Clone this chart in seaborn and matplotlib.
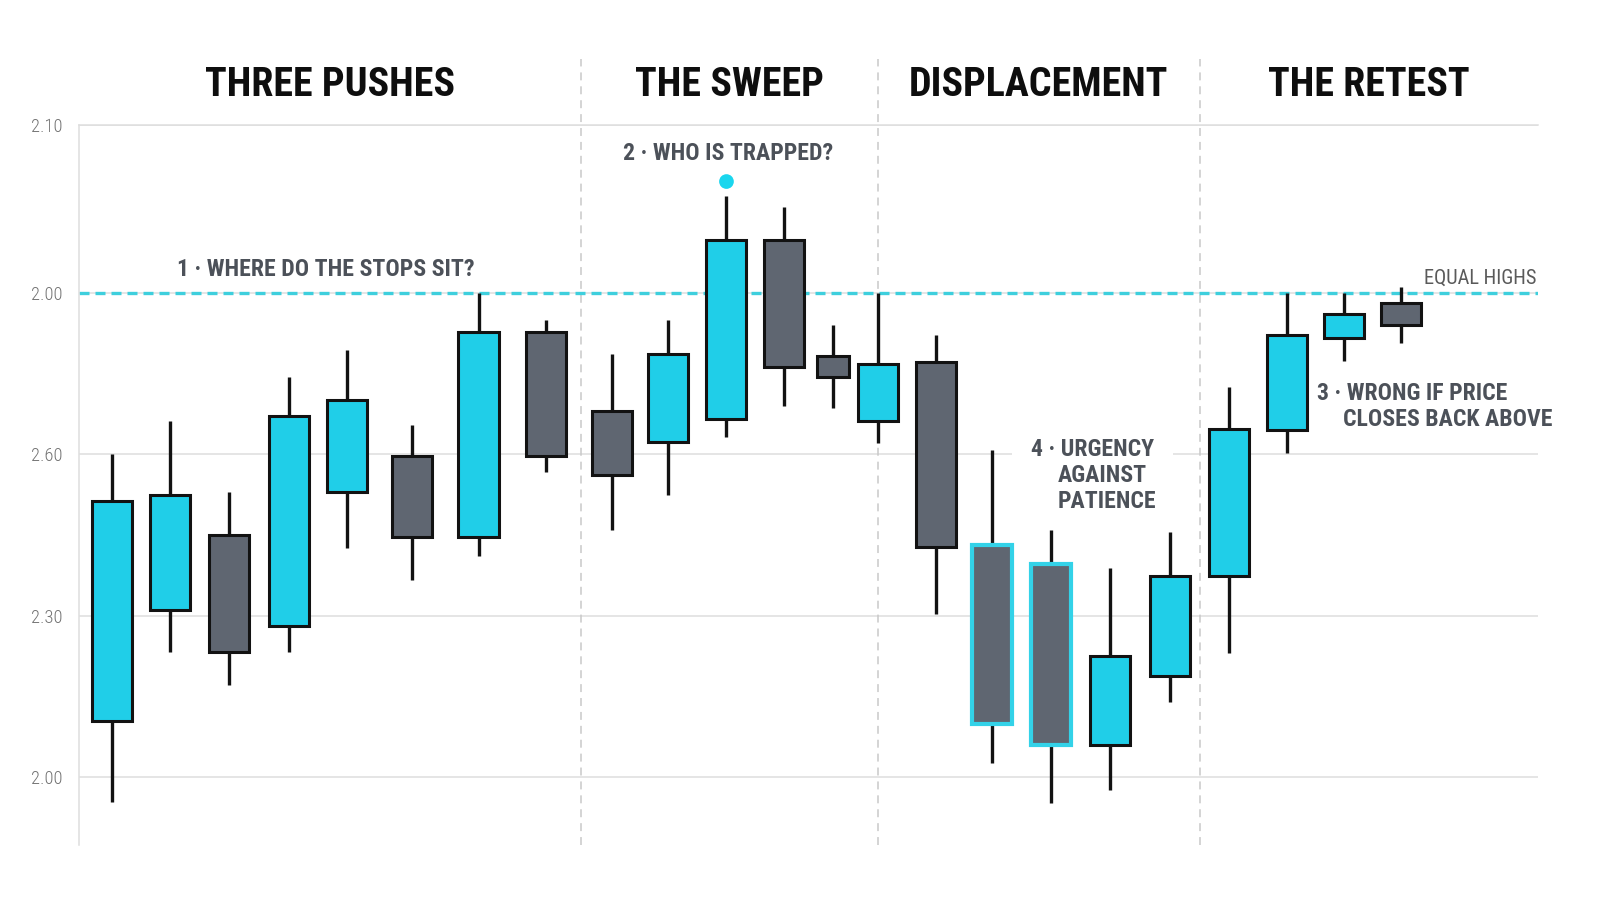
import os
import numpy as np
import pandas as pd
import seaborn as sns
import matplotlib
matplotlib.use("Agg")
import matplotlib.pyplot as plt
from matplotlib import font_manager as fm
from matplotlib.font_manager import FontProperties
from matplotlib.textpath import TextPath
import matplotlib.transforms as mtransforms

# ------------------------------------------------------------------ data
bar_time = [0.00, 0.99, 2.00, 3.01, 4.01, 5.12, 6.25, 7.40, 8.52, 9.49, 10.48, 11.46,
            12.30, 13.06, 14.05, 15.01, 16.02, 17.03, 18.04, 19.05, 20.04, 21.02, 21.99]
open_ = [0.35, 1.04, 1.50, 0.94, 1.77, 1.99, 1.49, 2.76, 2.27, 2.08, 2.22, 3.33,
         2.61, 2.21, 2.57, 1.44, 1.32, 0.20, 0.63, 1.25, 2.15, 2.72, 2.94]
high = [2.00, 2.21, 1.77, 2.48, 2.65, 2.18, 3.00, 2.83, 2.62, 2.83, 3.60, 3.53,
        2.80, 3.00, 2.74, 2.03, 1.53, 1.30, 1.52, 2.42, 3.00, 3.00, 3.04]
low = [-0.15, 0.78, 0.57, 0.78, 1.42, 1.22, 1.37, 1.89, 1.53, 1.75, 2.11, 2.30,
       2.29, 2.07, 1.01, 0.09, -0.16, -0.08, 0.47, 0.77, 2.01, 2.58, 2.69]
close = [1.71, 1.75, 0.78, 2.24, 2.34, 1.49, 2.76, 1.99, 1.87, 2.62, 3.33, 2.54,
         2.48, 2.56, 1.43, 0.33, 0.20, 0.75, 1.25, 2.16, 2.74, 2.87, 2.80]

equal_highs = 3.00
sweep_bar = 10
sweep_dot = 3.69
highlight_bars = [15, 16]

section_names = ["THREE PUSHES", "THE SWEEP", "DISPLACEMENT", "THE RETEST"]
section_bounds = [7.99, 13.06, 18.56]

tick_values = [0.0, 1.0, 2.0, 3.0, 4.04]
tick_labels = ["2.00", "2.30", "2.60", "2.00", "2.10"]

# ------------------------------------------------------------------ style
CYAN = "#20CEE8"
GRAY = "#5F6671"
EDGE = "#121212"
HL_EDGE = "#33D2E8"
LINE_CYAN = "#3ECFDD"
GRID = "#DEDEDE"
DIV = "#C9C9C9"
TITLE_C = "#0E0E0E"
ANN_C = "#4C5159"
TICK_C = "#727272"
DPI = 100
XLIM = (-0.573, 24.32)
YLIM = (-0.418, 4.04)

sns.set_theme(style="white")
plt.rcParams['font.family'] = ['Roboto', 'DejaVu Sans']

# ------------------------------------------------------------------ fonts
WMAP = {"ultralight": 200, "thin": 100, "light": 300, "normal": 400, "regular": 400,
        "book": 400, "roman": 400, "medium": 500, "semibold": 600, "demibold": 600,
        "demi": 600, "bold": 700, "heavy": 800, "extra bold": 800, "black": 900}
STRIP = {"condensed", "narrow", "cond", "semicondensed", "extracondensed", "light", "bold",
         "medium", "thin", "black", "semibold", "extrabold", "extralight", "regular",
         "heavy", "book", "semilight"}
FAMS = ["Roboto", "Noto Sans", "Open Sans", "Liberation Sans", "DejaVu Sans", "Lato", "Inter"]


def wnum(w):
    try:
        return int(w)
    except Exception:
        return WMAP.get(str(w).lower(), 400)


def find_condensed(target_w):
    best = None
    for f in fm.fontManager.ttflist:
        fn = os.path.basename(f.fname).lower()
        low_nm = f.name.lower()
        st = str(f.stretch).lower()
        is_cond = ("condensed" in st or "condensed" in low_nm or "narrow" in low_nm
                   or "condensed" in fn or "narrow" in fn)
        if not is_cond:
            continue
        if str(f.style).lower() != "normal" or "italic" in fn or "oblique" in fn:
            continue
        base = " ".join(w for w in f.name.split() if w.lower() not in STRIP)
        if base not in FAMS:
            continue
        odd = ("semicondensed" in fn or "semi-condensed" in st or "extracondensed" in fn
               or "extra-condensed" in st or "ultracondensed" in fn or "[" in fn)
        wd = abs(wnum(f.weight) - target_w)
        score = (wd > 150, odd, FAMS.index(base), wd)
        if best is None or score < best[0]:
            best = (score, f.fname)
    return best[1] if best else None


def make_fp(target_w):
    path = find_condensed(target_w)
    if path:
        return FontProperties(fname=path)
    return FontProperties(family=["Roboto", "DejaVu Sans"], weight=target_w)


fp_bold = make_fp(700)
fp_regular = make_fp(400)
fp_light = make_fp(300)


def cap_ratio(fp):
    tp = TextPath((0, 0), "H", size=100, prop=fp)
    return tp.get_extents().height / 100.0


# ------------------------------------------------------------------ figure
fig = plt.figure(figsize=(16, 9), dpi=DPI)
fig.patch.set_facecolor("white")
ax = fig.add_axes([0.0491, 0.0611, 0.912, 0.8])
ax.set_facecolor("white")
ax.set_xlim(*XLIM)
ax.set_ylim(*YLIM)

df = pd.DataFrame({"t": bar_time, "open": open_, "high": high, "low": low, "close": close})
df["bull"] = df["close"] > df["open"]
df["bottom"] = df[["open", "close"]].min(axis=1)
df["height"] = (df["close"] - df["open"]).abs()

# grid / spines
ax.set_axisbelow(True)
ax.set_xticks([])
ax.set_yticks(tick_values)
ax.set_yticklabels(tick_labels)
ax.grid(axis="y", color=GRID, lw=1.1, zorder=0)
ax.grid(axis="x", visible=False)
for side in ["right", "bottom"]:
    ax.spines[side].set_visible(False)
for side in ["left", "top"]:
    ax.spines[side].set_visible(True)
    ax.spines[side].set_color(GRID)
    ax.spines[side].set_linewidth(1.1)
ax.tick_params(axis="y", length=0, pad=11.8, colors=TICK_C)

# section dividers
for b in section_bounds:
    ax.axvline(b, ymin=0, ymax=1.0917, color=DIV, lw=1.1,
               linestyle=(0, (5.2, 3.9)), clip_on=False, zorder=1)

# equal highs
ax.axhline(equal_highs, color=LINE_CYAN, lw=2.4, linestyle=(0, (3.0, 1.8)), zorder=1.5)

# wicks
ax.vlines(df["t"], df["low"], df["high"], colors=EDGE, lw=2.4, zorder=3)

# bodies
n = len(df)
widths = np.full(n, 0.683)
widths[12] = 0.546
fills = [CYAN if b else GRAY for b in df["bull"]]
edges = [HL_EDGE if i in highlight_bars else EDGE for i in range(n)]
lws = [3.0 if i in highlight_bars else 2.2 for i in range(n)]
ax.bar(df["t"], df["height"], bottom=df["bottom"], width=widths, color=fills,
       edgecolor=edges, linewidth=lws, zorder=4)

# sweep marker (seaborn)
sns.scatterplot(x=[bar_time[sweep_bar]], y=[sweep_dot], s=112, color="#1AD6EE",
                edgecolor="none", ax=ax, legend=False, zorder=5)
ax.set_xlabel("")
ax.set_ylabel("")
ax.set_xlim(*XLIM)
ax.set_ylim(*YLIM)

renderer = fig.canvas.get_renderer()


def fit_group(texts, targets, cap_px, fp, kmin=0.72, kmax=1.08):
    base = cap_px / cap_ratio(fp) * 72.0 / DPI
    for t in texts:
        t.set_fontproperties(fp)
        t.set_fontsize(base)
    ks = [w / t.get_window_extent(renderer).width for t, w in zip(texts, targets)]
    k = min(max(float(np.median(ks)), kmin), kmax)
    for t in texts:
        t.set_fontsize(base * k)


# section titles
blend = mtransforms.blended_transform_factory(ax.transData, ax.transAxes)
edges_x = [XLIM[0]] + section_bounds + [XLIM[1]]
titles = []
for i, name in enumerate(section_names):
    xc = 0.5 * (edges_x[i] + edges_x[i + 1])
    titles.append(ax.text(xc, 1.0396, name, transform=blend, ha="center", va="baseline",
                          color=TITLE_C, clip_on=False, zorder=6))
fit_group(titles, [251, 189, 260, 202], 30.5, fp_bold)

# annotations
a1 = ax.text(3.64, 3.107, "1 · WHERE DO THE STOPS SIT?", ha="center", va="baseline",
             color=ANN_C, zorder=2.5)
a2 = ax.text(10.50, 3.824, "2 · WHO IS TRAPPED?", ha="center", va="baseline",
             color=ANN_C, zorder=2.5)
a3a = ax.text(20.555, 2.337, "3 · WRONG IF PRICE", ha="left", va="baseline",
              color=ANN_C, zorder=2.5)
a3b = ax.text(21.00, 2.176, "CLOSES BACK ABOVE", ha="left", va="baseline",
              color=ANN_C, zorder=2.5)
a4a = ax.text(15.68, 1.993, "4 · URGENCY", ha="left", va="baseline", color=ANN_C,
              zorder=2.5, bbox=dict(boxstyle="square,pad=0.8", fc="white", ec="none"))
a4b = ax.text(16.135, 1.832, "AGAINST", ha="left", va="baseline", color=ANN_C, zorder=2.6)
a4c = ax.text(16.135, 1.667, "PATIENCE", ha="left", va="baseline", color=ANN_C, zorder=2.6)
fit_group([a1, a2, a3a, a3b, a4a, a4b, a4c],
          [298, 212, 191.7, 209, 123, 89, 96.3], 17.0, fp_bold)

eq = ax.text(24.30, 3.060, "EQUAL HIGHS", ha="right", va="baseline", color="#5A5A5A",
             zorder=2.5)
fit_group([eq], [113.3], 15.0, fp_regular)

# tick labels
tl = ax.get_yticklabels()
fit_group(tl, [31.6] * len(tl), 13.3, fp_light)
for t in tl:
    t.set_color(TICK_C)

fig.savefig("out.png", dpi=DPI, facecolor="white")
